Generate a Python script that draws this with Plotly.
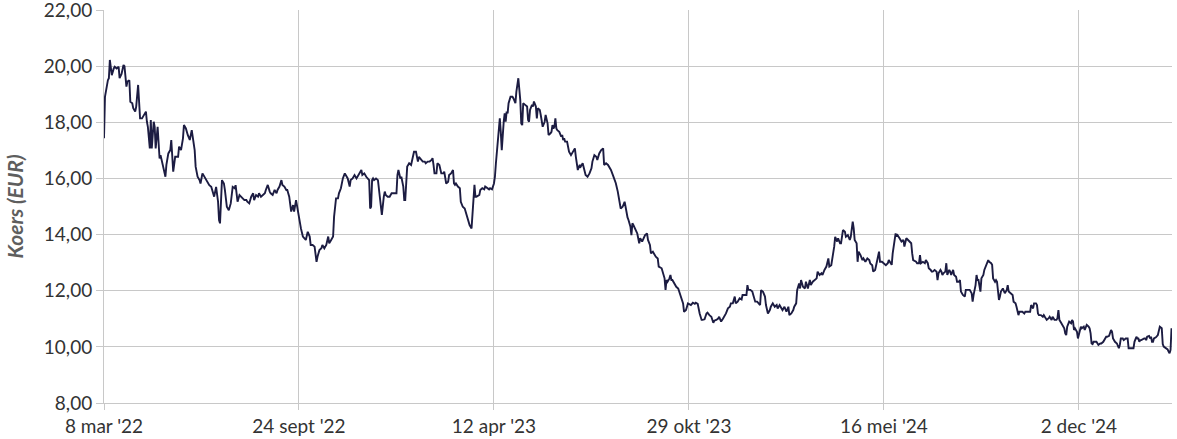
import pandas as pd
import plotly.graph_objects as go

START = "2022-03-08"

# days since 8 Mar 2022 and share price (EUR), in segments
dagen_1 = [0,1,4,5,6,8,10,11,13,15,16,18,20,21,23,24,26,27,29,30,32,33,35,37,39,41,43,44,45,47,48,49,51,52,53,55,57,58,60,63,64,66,68,69,71,73,76,77,79,81,82,84,86,88,90,92,93,94,96,98,99,101,103,105,106,108,110,111,113,115,117,118,119,121,123,124,126,128,130,132,134,135]
koers_1 = [17.43,18.91,19.50,19.57,20.22,19.68,19.92,19.98,19.92,19.98,19.57,19.72,20.04,20.00,19.27,19.45,19.50,18.73,18.68,18.50,18.38,18.55,19.33,18.14,18.14,18.26,18.38,18.02,17.84,17.07,18.08,17.07,18.02,17.84,17.07,17.84,16.71,16.83,16.54,16.06,16.48,16.89,17.01,17.37,16.24,16.77,16.77,17.13,17.01,17.43,17.90,17.78,17.54,17.37,17.72,17.19,17.01,16.42,16.06,15.94,15.82,16.18,16.06,15.94,15.88,15.76,15.70,15.59,15.35,15.70,15.17,14.52,14.40,15.94,15.82,15.59,14.99,14.87,15.11,15.70,15.65,15.76]

dagen_2 = [136,137,139,141,142,144,146,147,149,151,153,154,156,158,159,161,163,165,166,168,170,171,173,175,177,178,180,182,183,185,187,188,190,192,194,195,197,199,200,202,204,206,207,209,211,212,214,216,218,219,221,223,224,226,228,230,231,233,235,236,238,240,241,243,245,247,248,250,252,253,255,257,259,260,262,264,265,267,269]
koers_2 = [15.47,15.17,15.41,15.35,15.29,15.23,15.23,15.17,15.11,15.35,15.47,15.23,15.41,15.35,15.47,15.35,15.41,15.47,15.59,15.77,15.53,15.47,15.41,15.59,15.47,15.59,15.71,15.94,15.77,15.71,15.59,15.59,15.35,14.82,15.05,14.82,15.23,14.82,14.52,14.22,13.93,13.87,13.81,14.10,13.93,13.63,13.63,13.57,13.03,13.21,13.45,13.51,13.63,13.51,13.63,13.93,13.69,13.81,13.93,14.64,15.29,15.29,15.47,15.65,16.00,16.18,16.12,16.00,15.71,15.94,16.00,16.12,16.00,16.06,16.18,16.30,16.12,16.18,16.06]

dagen_3 = [271,272,273,274,275,276,277,279,281,283,284,285,287,288,289,291,293,295,296,298,300,301,302,304,305,307,308,309,311,312,313,315,317,318,320,322,323,324,325,327,329,330,332,334,336,337,338,339,341,342,344,346,348,349,351,353,354,356,358,359,360,361,363,365,366,368,370,372,373,375,377,378,380,381,382,385,386,388,390,391,393,395,396,398,400,401]
koers_3 = [16.00,15.94,14.93,14.99,15.94,16.00,15.94,16.00,15.94,15.35,14.87,14.70,15.35,15.53,15.41,15.35,15.35,15.47,15.47,15.47,15.47,16.12,16.30,16.00,16.06,15.71,15.23,15.23,16.42,16.48,16.54,16.48,16.89,16.95,16.95,16.60,16.77,16.72,16.66,16.60,16.60,16.54,16.60,16.60,16.66,16.72,16.48,16.18,16.18,16.54,16.48,16.18,16.18,16.24,15.82,15.88,16.12,16.18,16.30,15.82,15.77,15.82,15.71,15.65,15.17,14.99,14.93,14.70,14.52,14.34,14.22,14.64,15.77,15.35,15.35,15.41,15.59,15.65,15.61,15.71,15.65,15.61,15.65,15.61,15.82,16.06]

dagen_4 = [402,404,406,407,408,410,411,412,413,414,415,417,419,420,421,422,423,424,425,427,428,429,430,432,434,435,436,437,439,440,441,443,444,445,447,448,450,452,453,455,456,458,459,460,461,462,463,464,465,467,469,470,471,472,473,475,476,477,479,481,483,484,485,486,488,489,491,493,494,496,498,500,501,503,505,506,508,510,512,513,515,517,518,520,522,524,525,527,529,530,532,534,535,536]
koers_4 = [16.54,17.37,18.14,17.66,17.01,18.02,18.32,18.02,18.38,18.32,18.68,18.91,18.91,18.85,18.79,18.68,19.09,19.33,19.57,18.79,17.96,17.90,18.68,18.62,18.56,18.08,18.02,18.44,18.62,18.56,18.74,18.56,18.14,18.50,18.44,18.26,17.84,18.02,18.26,17.96,17.55,17.61,17.66,17.90,17.78,17.84,18.14,17.78,17.72,17.66,17.49,17.55,17.37,17.43,17.31,17.31,17.13,16.95,16.83,16.95,17.07,16.77,16.42,16.30,16.48,16.42,16.54,16.30,16.12,16.06,16.18,16.36,16.60,16.83,16.77,16.66,16.89,17.01,17.07,16.48,16.54,16.48,16.42,16.30,16.12,15.94,15.83,15.53,15.05,14.93,14.99,15.17,14.99,14.76]

dagen_5 = [537,538,540,541,542,543,545,547,549,550,552,553,555,557,558,560,561,563,565,566,568,569,572,573,575,576,577,578,580,581,582,583,585,587,589,590,592,594,595,597,599,601,602,604,606,607,609,611,613,614,616,618,619,621,623,625,626,628,630,631,633,635,637,638,640,642,643,645,647,648,650,652,654,655,657,659,660,661,663,665,666,668]
koers_5 = [14.61,14.52,14.28,13.98,14.40,14.34,14.16,14.04,13.69,13.87,13.75,13.81,13.98,14.04,13.81,13.63,13.33,13.39,13.27,13.21,13.15,12.86,12.80,12.68,12.44,12.03,12.38,12.32,12.44,12.56,12.38,12.38,12.26,12.14,12.08,11.97,11.79,11.55,11.25,11.31,11.55,11.49,11.49,11.57,11.53,11.57,11.53,11.19,10.96,10.96,10.98,11.19,11.22,11.13,11.07,10.86,10.93,10.96,11.01,11.07,10.90,11.01,11.13,11.19,11.37,11.43,11.55,11.55,11.79,11.55,11.61,11.73,11.69,11.85,11.85,11.85,12.20,12.03,12.03,11.97,11.85,11.61]

dagen_6 = [670,672,673,674,676,678,679,681,683,684,686,688,690,691,693,695,696,698,700,702,703,705,707,708,710,711,713,714,715,717,719,720,722,724,725,727,729,731,732,734,736,737,739,741,743,744,746,748,749,750,752,753,755,756,758,760,761,763,765,766,768,769,770,772,773,774,776,778,779,781,783,785,786,788,789,791,793,795,796,798,800,802]
koers_6 = [11.61,11.55,11.49,12.02,11.96,11.79,11.49,11.19,11.31,11.43,11.55,11.43,11.49,11.37,11.49,11.37,11.31,11.43,11.25,11.43,11.13,11.19,11.31,11.43,11.55,12.02,12.26,12.08,12.38,12.14,12.08,12.32,12.08,12.38,12.20,12.32,12.38,12.44,12.68,12.56,12.62,12.56,12.74,12.86,13.15,12.86,12.91,13.33,13.57,13.92,13.75,13.87,13.69,13.69,14.16,14.10,13.92,13.98,13.81,13.92,14.46,14.22,13.81,13.69,13.03,13.39,13.27,13.09,13.15,13.03,13.15,13.09,12.97,12.91,12.68,12.74,13.09,13.39,13.03,13.03,12.97,12.91]

dagen_7 = [804,805,807,808,809,811,812,813,814,816,818,820,821,823,825,826,828,829,830,833,834,836,837,838,840,842,843,845,846,848,849,850,852,854,855,856,858,859,860,861,863,864,865,867,868,869,871,872,874,875,877,878,879,881,883,884,886,888,890,891,892,893,894,895,896,897,899,900,902,903,905,907,908,910,911,912,914,915,916,918,919,920,922,924,926,927,928,930,931,932,933,935]
koers_7 = [12.98,13.09,12.98,12.92,13.33,13.81,14.04,13.93,13.98,13.87,13.75,13.81,13.57,13.87,13.81,13.75,13.69,13.33,13.09,13.03,12.98,12.98,13.27,12.98,13.03,12.98,13.09,12.98,12.80,12.74,12.68,12.68,12.74,12.68,12.38,12.62,12.74,12.68,12.56,12.62,12.68,12.98,12.56,12.74,12.68,12.56,12.74,12.56,12.50,12.32,12.32,12.38,11.97,11.85,11.79,12.03,12.03,12.03,11.91,11.61,11.85,12.03,12.20,12.56,12.38,12.38,11.97,12.44,12.56,12.74,12.92,13.09,13.03,12.98,12.92,12.44,12.32,12.38,12.32,11.67,11.79,11.97,12.08,11.91,12.03,12.20,11.97,11.91,11.85,11.85,11.61,11.55]

dagen_8 = [936,937,938,939,940,942,944,945,946,948,950,951,953,954,956,957,958,959,961,963,964,965,967,969,970,972,973,974,975,977,978,979,980,981,983,985,986,987,988,990,992,993,994,995,996,998,999,1000,1002,1003,1005,1006,1008,1010,1011,1012,1013,1014,1015,1018,1019,1020,1022,1023,1025,1027,1028,1029,1031,1033,1034,1035,1037,1039,1040,1041,1042,1043,1045,1046,1048,1050,1051,1052,1054,1056,1057,1059,1060,1061,1062,1063,1064,1065,1067,1068,1069,1070,1072,1073,1074,1075,1076,1077,1079,1081,1082,1083,1085,1086,1087,1089,1091,1092,1093,1094,1095]
koers_8 = [11.43,11.31,11.13,11.25,11.25,11.25,11.19,11.25,11.25,11.25,11.25,11.49,11.37,11.55,11.55,11.49,11.19,11.13,11.13,11.07,11.13,11.07,10.96,11.02,11.07,10.96,11.07,11.02,10.96,10.96,11.02,11.31,10.96,10.90,10.78,10.66,10.48,10.42,10.72,10.90,10.84,10.96,10.90,10.60,10.66,10.54,10.30,10.42,10.72,10.66,10.72,10.60,10.78,10.72,10.66,10.48,10.12,10.10,10.18,10.18,10.12,10.07,10.12,10.12,10.18,10.30,10.36,10.36,10.39,10.60,10.54,10.30,10.18,10.12,10.01,9.95,10.07,10.30,10.30,10.24,10.30,10.30,9.95,9.95,9.95,9.95,10.18,10.36,10.30,10.30,10.18,10.24,10.24,10.27,10.30,10.30,10.24,10.36,10.39,10.30,10.36,10.18,10.18,10.30,10.34,10.42,10.66,10.72,10.66,10.10,10.01,9.95,9.91,9.83,9.77,9.89,10.66]

tick_dates = ["2022-03-08", "2022-09-24", "2023-04-12", "2023-10-29", "2024-05-16", "2024-12-02"]
tick_labels = ["8 mar '22", "24 sept '22", "12 apr '23", "29 okt '23", "16 mei '24", "2 dec '24"]
y_ticks = [8, 10, 12, 14, 16, 18, 20, 22]

segments = [(dagen_1, koers_1), (dagen_2, koers_2), (dagen_3, koers_3), (dagen_4, koers_4),
            (dagen_5, koers_5), (dagen_6, koers_6), (dagen_7, koers_7), (dagen_8, koers_8)]
dagen, koers = [], []
for i, (d, k) in enumerate(segments):
    assert len(d) == len(k), (i, len(d), len(k))
    dagen += d
    koers += k

datums = pd.Timestamp(START) + pd.to_timedelta(dagen, unit="D")

fig = go.Figure()
fig.add_trace(go.Scatter(
    x=datums, y=koers, mode="lines",
    line=dict(color="#1c1c42", width=1.9),
    hoverinfo="skip", showlegend=False,
))

grid = "#c8c8c8"
fig.update_layout(
    width=1177, height=439,
    margin=dict(l=104, r=5, t=10, b=36),
    paper_bgcolor="white", plot_bgcolor="white",
    separators=",.",
    font=dict(family="Lato, 'Open Sans', sans-serif", size=19, color="#333333"),
    xaxis=dict(
        type="date", automargin=False,
        range=[datums[0], datums[-1] + pd.Timedelta(hours=12)],
        tickvals=tick_dates, ticktext=tick_labels,
        showgrid=True, gridcolor=grid, gridwidth=1,
        showline=True, linecolor=grid, linewidth=1,
        ticks="outside", ticklen=6, tickcolor=grid,
        zeroline=False,
    ),
    yaxis=dict(
        automargin=False,
        range=[8, 22.0001], tickvals=y_ticks, tickformat=".2f",
        ticklabeloverflow="allow",
        showgrid=True, gridcolor=grid, gridwidth=1,
        showline=True, linecolor=grid, linewidth=1,
        ticks="outside", ticklen=7, tickcolor=grid,
        zeroline=False,
        title=dict(text="Koers (EUR)", standoff=14,
                   font=dict(size=21, color="#5e5e5e", style="italic", weight="bold")),
    ),
)

# remove the default 8px page margin so the figure fills the window exactly
fig.write_html("out.html",
               config={"displayModeBar": False},
               post_script="document.body.style.margin='0';document.body.style.overflow='hidden';")
